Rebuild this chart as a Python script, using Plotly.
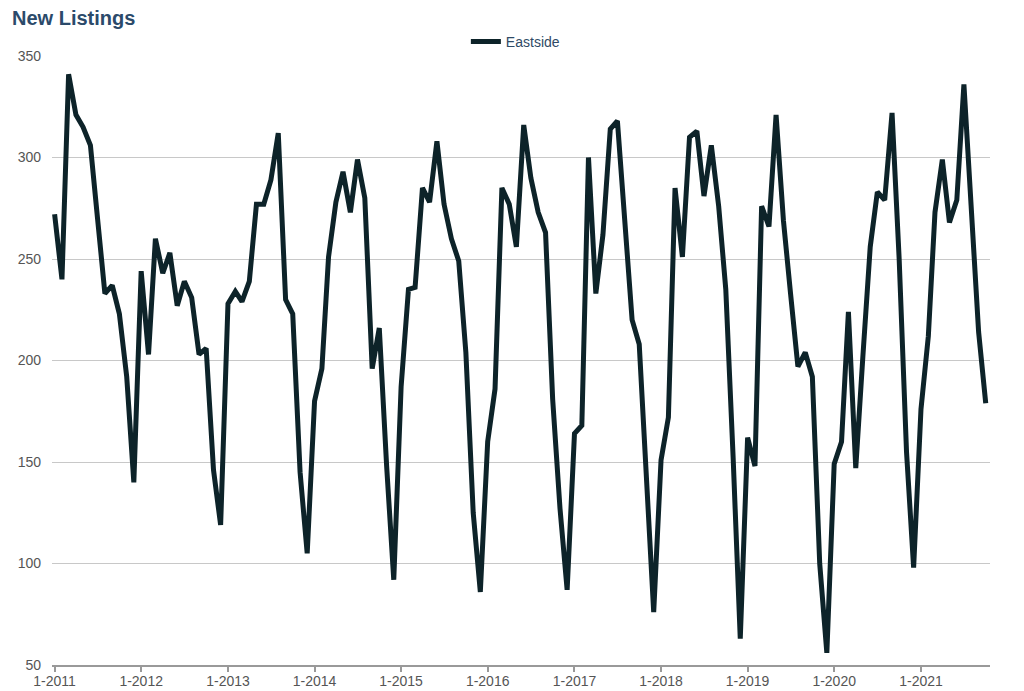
import pandas as pd
import plotly.graph_objects as go

# Monthly dates Jan 2011 .. Oct 2021
months = pd.date_range("2011-01-01", "2021-10-01", freq="MS").strftime("%Y-%m-%d").tolist()

eastside = [
    272, 240, 341, 321, 315, 306, 270, 233, 237, 223, 192, 140,
    244, 203, 260, 243, 253, 227, 239, 231, 203, 206, 146, 119,
    228, 234, 229, 239, 277, 277, 289, 312, 230, 223, 145, 105,
    180, 196, 251, 278, 293, 273, 299, 280, 196, 216, 148, 92,
    187, 235, 236, 285, 278, 308, 277, 260, 249, 204, 125, 86,
    160, 186, 285, 277, 256, 316, 290, 273, 263, 181, 127, 87,
    164, 168, 300, 233, 262, 314, 318, 269, 220, 208, 142, 76,
    151, 172, 285, 251, 310, 313, 281, 306, 276, 235, 152, 63,
    162, 148, 276, 266, 321, 269, 233, 197, 204, 192, 100, 56,
    149, 160, 224, 147, 202, 256, 283, 279, 322, 250, 155, 98,
    176, 212, 273, 299, 268, 279, 336, 275, 214, 179,
]

tick_dates = [f"{y}-01-01" for y in range(2011, 2022)]
tick_labels = [f"1-{y}" for y in range(2011, 2022)]
y_ticks = [50, 100, 150, 200, 250, 300, 350]

W, H = 1016, 683  # page body has an 8px margin

fig = go.Figure()
fig.add_trace(go.Scatter(
    x=months, y=eastside, mode="lines", name="Eastside",
    line=dict(color="#0d2329", width=5),
))

fig.update_layout(
    width=W, height=H,
    margin=dict(l=44, r=34, t=48, b=26),
    paper_bgcolor="white", plot_bgcolor="white",
    font=dict(family="Liberation Sans, Arial, sans-serif", size=13, color="#555555"),
    title=dict(text="<b>New Listings</b>", x=4/W, xanchor="left",
               y=1-10/H, yanchor="middle", xref="container", yref="container",
               font=dict(size=20, color="#2b4a6a")),
    showlegend=True,
    legend=dict(orientation="h", x=0.494, xanchor="center", y=1.023, yanchor="middle",
                font=dict(size=14, color="#2f4a66"), bgcolor="rgba(0,0,0,0)"),
    xaxis=dict(type="date", range=["2010-12-21", "2021-10-19"], automargin=False,
               tickvals=tick_dates, ticktext=tick_labels,
               showgrid=False, showline=True, linecolor="#999999", linewidth=2,
               ticks="outside", ticklen=5, tickwidth=2, tickcolor="#999999",
               ticklabelstandoff=-3,
               tickfont=dict(size=14, color="#555555"), zeroline=False),
    yaxis=dict(range=[50, 350], tickvals=y_ticks, showgrid=True, automargin=False,
               gridcolor="#c8c8c8", gridwidth=1, zeroline=False,
               showline=False, ticks="", ticklabelstandoff=10,
               tickfont=dict(size=14, color="#555555")),
)

fig.write_html("out.html")
